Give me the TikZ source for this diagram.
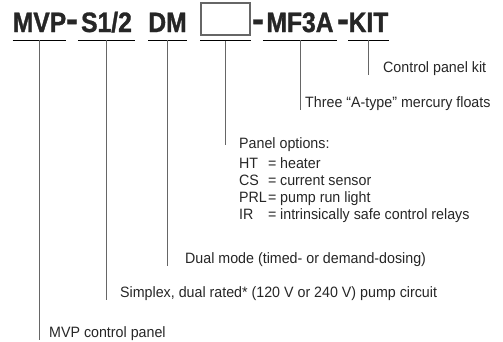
\documentclass[tikz,border=0pt]{standalone}
\usepackage{fontspec}
\setmainfont{Liberation Sans}[FakeStretch=0.95]
\newfontfamily\titlefont{Liberation Sans}[FakeStretch=0.88, FakeBold=1.2]
\usetikzlibrary{positioning}

\begin{document}
\begin{tikzpicture}[x=1pt, y=-1pt, every node/.style={inner sep=0pt, text=black!85},
  part/.style={font=\titlefont\bfseries\fontsize{28}{28}\selectfont, anchor=base},
  lbl/.style={font=\fontsize{15}{17.3}\selectfont, anchor=base west},
  uline/.style={black, line width=1pt},
  leader/.style={black!60, line width=0.9pt}]
\useasboundingbox (0,0) rectangle (503,341);
\node[part, minimum width=53pt] (mvp) at (39.5,32) {MVP};
\node[part] (h1) at (72,32) {\scalebox{1.4}{-}};
\node[part, minimum width=57pt] (s12) at (106.5,32) {S1/2};
\node[part, minimum width=37pt] (dm) at (167.5,32) {DM};
\node[draw=black!60, line width=1.2pt, minimum width=49pt, minimum height=32pt] (opt) at (225.5,19) {};
\node[part] (h2) at (258,32) {\scalebox{1.4}{-}};
\node[part, minimum width=74pt] (mf) at (300,32) {MF3A};
\node[part] (h3) at (343,32) {\scalebox{1.4}{-}};
\node[part, minimum width=39pt] (kit) at (368.5,32) {KIT};

\node[lbl] (lkit) at (383,72) {Control panel kit};
\node[lbl] (lmf) at (305,107) {Three “A-type” mercury floats};
\node[lbl] (popt) at (239,148) {Panel options:};
\node[lbl] (plist) at (239,168) {\begin{tabular}[t]{@{}p{29pt}@{}p{12pt}@{}l@{}}
HT & = & heater\\
CS & = & current sensor\\
PRL & = & pump run light\\
IR & = & intrinsically safe control relays
\end{tabular}};
\node[lbl] (ldm) at (185,263) {Dual mode (timed- or demand-dosing)};
\node[lbl] (lsim) at (120,297) {Simplex, dual rated* (120 V or 240 V) pump circuit};
\node[lbl] (lmvp) at (49,337) {MVP control panel};

\foreach \p/\l in {mvp/lmvp, s12/lsim, dm/ldm, mf/lmf, kit/lkit} {
  \draw[uline] ([yshift=-8pt]\p.base west) -- ([yshift=-8pt]\p.base east);
  \draw[leader] ([yshift=-8pt]\p.base) -- (\p.base |- \l.south);
}
\draw[uline] ([yshift=-5pt]opt.south west) -- ([yshift=-5pt]opt.south east);
\draw[leader] ([yshift=-5pt]opt.south) -- ([yshift=3pt]opt.south |- popt.base);
\end{tikzpicture}
\end{document}
